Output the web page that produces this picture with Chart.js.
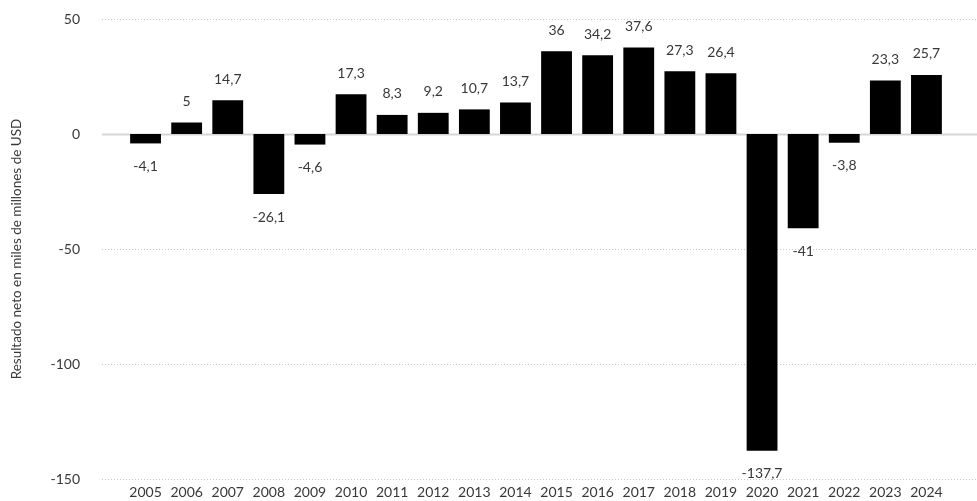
<!DOCTYPE html>
<html>
<head>
<meta charset="utf-8">
<script src="https://cdn.jsdelivr.net/npm/chart.js@4.4.1/dist/chart.umd.min.js"></script>
<style>
  html, body { margin: 0; padding: 0; background: #fff; }
  #wrap { width: 977px; height: 501px; position: relative; }
</style>
</head>
<body>
<div id="wrap"><canvas id="c" width="977" height="501"></canvas></div>
<script>
// Resultado neto anual (miles de millones de USD)
const years = ['2005','2006','2007','2008','2009','2010','2011','2012','2013','2014',
               '2015','2016','2017','2018','2019','2020','2021','2022','2023','2024'];
const netResult = [-4.1, 5, 14.7, -26.1, -4.6, 17.3, 8.3, 9.2, 10.7, 13.7,
                   36, 34.2, 37.6, 27.3, 26.4, -137.7, -41, -3.8, 23.3, 25.7];
const yTicks = [50, 0, -50, -100, -150];
const yTitle = 'Resultado neto en miles de millones de USD';

const FONT = 'Lato, "Open Sans", sans-serif';
const TEXT = '#383838';

// Horizontal guide lines spanning the full width, at each y tick
const gridPlugin = {
  id: 'wideGrid',
  beforeDatasetsDraw(chart) {
    const { ctx, scales: { y } } = chart;
    ctx.save();
    yTicks.forEach(v => {
      const py = Math.round(y.getPixelForValue(v)) + 0.5;
      ctx.beginPath();
      if (v === 0) {
        ctx.setLineDash([]);
        ctx.strokeStyle = '#d6d6d6';
        ctx.lineWidth = 2;
      } else {
        ctx.setLineDash([1, 2]);
        ctx.strokeStyle = '#c8c8c8';
        ctx.lineWidth = 1;
      }
      ctx.moveTo(102, py);
      ctx.lineTo(977, py);
      ctx.stroke();
    });
    ctx.restore();
  }
};

// Value labels above positive bars and below negative bars
const valueLabels = {
  id: 'valueLabels',
  afterDatasetsDraw(chart) {
    const { ctx } = chart;
    const meta = chart.getDatasetMeta(0);
    ctx.save();
    ctx.font = '14px ' + FONT;
    ctx.fillStyle = TEXT;
    ctx.textAlign = 'center';
    ctx.textBaseline = 'middle';
    meta.data.forEach((bar, i) => {
      const v = netResult[i];
      const txt = String(v).replace('.', ',');
      const py = v >= 0 ? bar.y - 21 : bar.y + 23;
      ctx.fillText(txt, bar.x, py);
    });
    ctx.restore();
  }
};

new Chart(document.getElementById('c'), {
  type: 'bar',
  data: {
    labels: years,
    datasets: [{
      data: netResult,
      backgroundColor: '#000000',
      borderWidth: 0,
      categoryPercentage: 1,
      barPercentage: 0.75
    }]
  },
  options: {
    responsive: false,
    animation: false,
    events: [],
    layout: { padding: { top: 19, right: 30, bottom: 0, left: 0 } },
    plugins: { legend: { display: false }, tooltip: { enabled: false } },
    scales: {
      x: {
        grid: { display: false, drawTicks: false },
        border: { display: false },
        ticks: { color: TEXT, font: { family: FONT, size: 14 }, padding: 5, maxRotation: 0, autoSkip: false },
        afterFit(scale) { scale.height = 22; }
      },
      y: {
        min: -150,
        max: 50,
        afterBuildTicks(scale) { scale.ticks = yTicks.map(v => ({ value: v })); },
        grid: { display: false, drawTicks: false },
        border: { display: false },
        ticks: { color: TEXT, font: { family: FONT, size: 14 }, padding: 45 },
        title: {
          display: true,
          text: yTitle,
          color: TEXT,
          font: { family: FONT, size: 13.5 },
          padding: { top: 9, bottom: 0 }
        },
        afterFit(scale) {
          scale.width = 125;
          scale.paddingTop = 0;
          scale.paddingBottom = 0;
        }
      }
    }
  },
  plugins: [gridPlugin, valueLabels]
});
</script>
</body>
</html>
